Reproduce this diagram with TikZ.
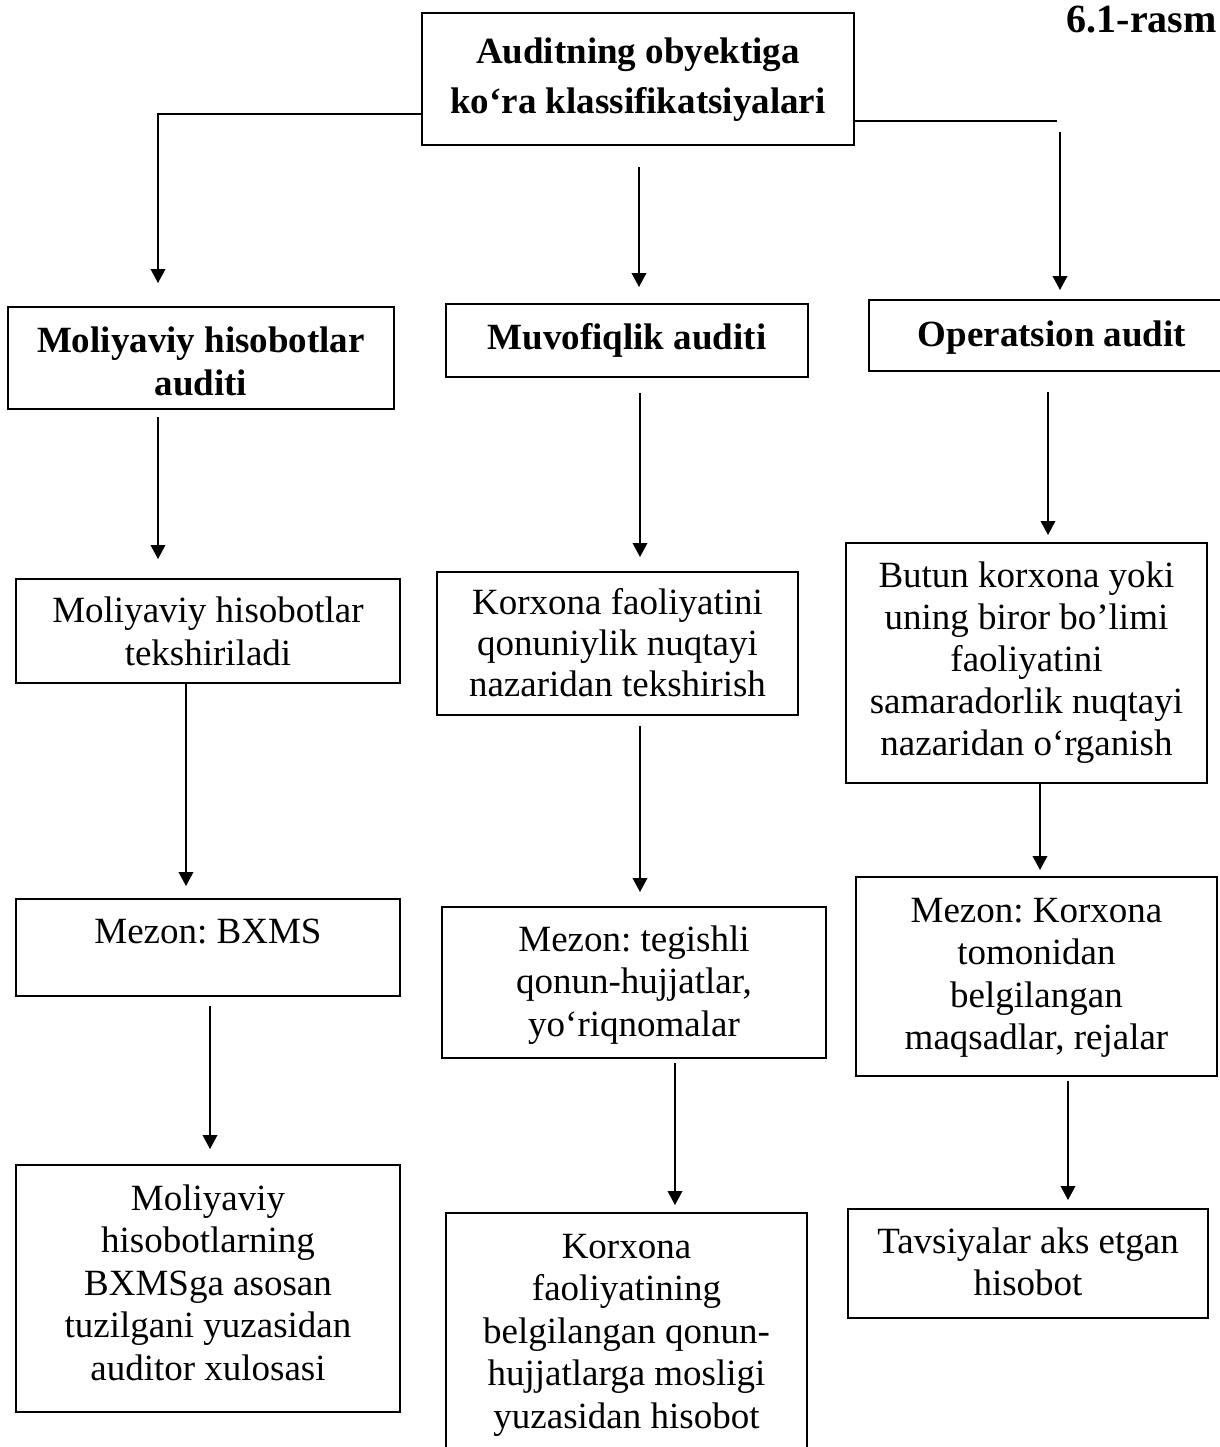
\documentclass[tikz,border=0pt]{standalone}
\usepackage{fontspec}
\setmainfont{Liberation Serif}
\usetikzlibrary{arrows.meta}
\frenchspacing
\newlength\px
\setlength\px{0.75pt}
% box content: width, height, first-baseline offset, baselineskip (all in px), text
\newcommand\cellbody[5]{\parbox[c][#2\px][t]{#1\px}{\centering
  \fontsize{27.75pt}{#4\px}\selectfont
  \vspace*{\dimexpr#3\px-0.7\baselineskip\relax}\strut #5}}
\tikzset{
  cell/.style={draw, line width=1.1pt, inner sep=0pt, outer sep=0pt, anchor=north west},
  arr/.style={line width=1.1pt, -{Triangle[width=11pt,length=10.5pt]}},
  link/.style={line width=1.1pt}
}
\begin{document}
\begin{tikzpicture}[x=0.75pt,y=-0.75pt]
\useasboundingbox (0,0) rectangle (1220,1447);

% caption
\node[anchor=base east, inner sep=0pt, font=\fontsize{30pt}{36pt}\selectfont\bfseries] (fig) at (1217,32) {6.1-rasm};

% root
\node[cell] (top) at (422,13) {\cellbody{432}{132}{50}{50}{\bfseries Auditning obyektiga\\ko‘ra klassifikatsiyalari}};

% audit types
\node[cell] (A2) at (8,307)   {\cellbody{386}{102}{45}{43}{\bfseries Moliyaviy hisobotlar\\auditi}};
\node[cell] (B2) at (446,304) {\cellbody{362}{73}{45}{43}{\bfseries Muvofiqlik auditi}};
\node[cell] (C2) at (869,300) {\cellbody{366}{71}{46}{43}{\bfseries Operatsion audit}};

% objects
\node[cell] (A3) at (16,579)  {\cellbody{384}{104}{43}{43}{Moliyaviy hisobotlar\\tekshiriladi}};
\node[cell] (B3) at (437,572) {\cellbody{361}{143}{42}{41}{Korxona faoliyatini\\qonuniylik nuqtayi\\nazaridan tekshirish}};
\node[cell] (C3) at (846,543) {\cellbody{361}{240}{44}{42}{Butun korxona yoki\\uning biror bo’limi\\faoliyatini\\samaradorlik nuqtayi\\nazaridan o‘rganish}};

% criteria
\node[cell] (A4) at (16,899)  {\cellbody{384}{97}{44}{42.5}{Mezon: BXMS}};
\node[cell] (B4) at (442,907) {\cellbody{384}{151}{44}{42.5}{Mezon: tegishli\\qonun-hujjatlar,\\yo‘riqnomalar}};
\node[cell] (C4) at (856,877) {\cellbody{361}{199}{45}{42.5}{Mezon: Korxona\\tomonidan\\belgilangan\\maqsadlar, rejalar}};

% results
\node[cell] (A5) at (16,1165)  {\cellbody{384}{247}{45}{42.5}{Moliyaviy\\hisobotlarning\\BXMSga asosan\\tuzilgani yuzasidan\\auditor xulosasi}};
\node[cell] (B5) at (446,1213) {\cellbody{361}{250}{45}{42.5}{Korxona\\faoliyatining\\belgilangan qonun-\\hujjatlarga mosligi\\yuzasidan hisobot}};
\node[cell] (C5) at (848,1209) {\cellbody{360}{109}{44}{42.5}{Tavsiyalar aks etgan\\hisobot}};

% root to audit types
\draw[arr] ([yshift=31\px]top.south west) -| ([xshift=150\px,yshift=24\px]A2.north west);
\draw[arr] ([xshift=217\px,yshift=-22\px]top.south west) -- ([xshift=193\px,yshift=17\px]B2.north west);
\draw[link] ([yshift=24\px]top.south east) -- ([xshift=203\px,yshift=24\px]top.south east);
\draw[arr] ([xshift=206\px,yshift=13\px]top.south east) -- ([xshift=191\px,yshift=10\px]C2.north west);

% audit types to objects
\draw[arr] ([xshift=150\px,yshift=-8\px]A2.south west) -- ([xshift=142\px,yshift=20\px]A3.north west);
\draw[arr] ([xshift=194\px,yshift=-16\px]B2.south west) -- ([xshift=203\px,yshift=15\px]B3.north west);
\draw[arr] ([xshift=179\px,yshift=-21\px]C2.south west) -- ([xshift=202\px,yshift=8\px]C3.north west);

% objects to criteria
\draw[arr] ([xshift=170\px]A3.south west) -- ([xshift=170\px,yshift=13\px]A4.north west);
\draw[arr] ([xshift=203\px,yshift=-11\px]B3.south west) -- ([xshift=198\px,yshift=15\px]B4.north west);
\draw[arr] ([xshift=194\px]C3.south west) -- ([xshift=184\px,yshift=7\px]C4.north west);

% criteria to results
\draw[arr] ([xshift=194\px,yshift=-10\px]A4.south west) -- ([xshift=194\px,yshift=16\px]A5.north west);
\draw[arr] ([xshift=233\px,yshift=-5\px]B4.south west) -- ([xshift=229\px,yshift=8\px]B5.north west);
\draw[arr] ([xshift=212\px,yshift=-5\px]C4.south west) -- ([xshift=220\px,yshift=9\px]C5.north west);
\end{tikzpicture}
\end{document}
